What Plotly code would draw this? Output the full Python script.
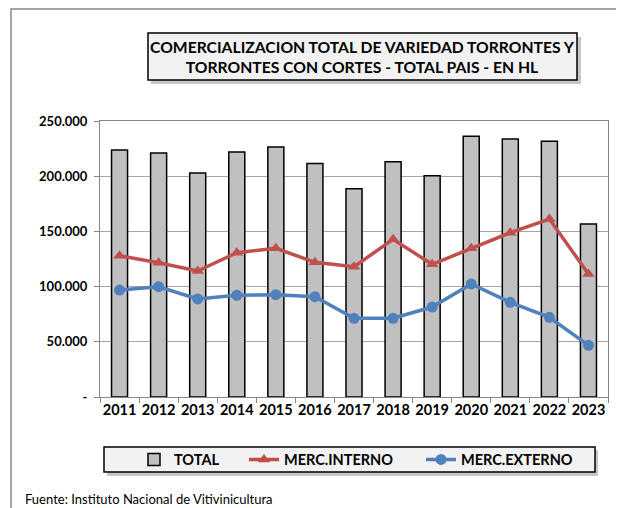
import plotly.graph_objects as go

years = ["2011", "2012", "2013", "2014", "2015", "2016", "2017", "2018", "2019", "2020", "2021", "2022", "2023"]
total = [223700, 221000, 202900, 221900, 226400, 211600, 188700, 213100, 200400, 236100, 233700, 231600, 156700]
merc_interno = [128000, 121600, 114100, 130700, 134700, 122000, 118000, 142800, 120200, 134700, 148800, 161200, 111400]
merc_externo = [96900, 99900, 88800, 92100, 92700, 90900, 71300, 71300, 81500, 102400, 85800, 72200, 46800]

y_tickvals = [0, 50000, 100000, 150000, 200000, 250000]
y_ticktext = ["-", "50.000", "100.000", "150.000", "200.000", "250.000"]

title_text = "COMERCIALIZACION TOTAL DE VARIEDAD TORRONTES Y<br>TORRONTES CON CORTES - TOTAL PAIS - EN HL"
source_text = "Fuente: Instituto Nacional de Vitivinicultura"

FONT = "Lato"
OFF = 8  # page body margin
W, H = 624 - OFF, 508 - OFF
L, R, T, B = 100 - OFF, 608 - OFF, 121 - OFF, 397 - OFF

def px(x):
    # x given in screen pixels
    return (x - OFF - L) / (R - L)

def py(y):
    return (B - (y - OFF)) / (B - T)

fig = go.Figure()
fig.add_trace(go.Bar(
    x=years, y=total, name="<b>TOTAL</b>", legend="legend",
    marker=dict(color="#c0c0c0", line=dict(color="#000000", width=1.5)),
    width=0.41,
))
fig.add_trace(go.Scatter(
    x=years, y=merc_interno, name="<b>MERC.INTERNO</b>", mode="lines+markers", legend="legend2",
    line=dict(color="#c0504d", width=3.5),
    marker=dict(symbol="triangle-up", size=11, color="#c0504d"),
))
fig.add_trace(go.Scatter(
    x=years, y=merc_externo, name="<b>MERC.EXTERNO</b>", mode="lines+markers", legend="legend3",
    line=dict(color="#4f81bd", width=3.5),
    marker=dict(symbol="circle", size=11, color="#4f81bd"),
))

shapes = [
    # outer chart border
    dict(type="rect", xref="paper", yref="paper", x0=px(11), x1=px(640), y0=py(9), y1=py(530),
         line=dict(color="#868686", width=1.5), fillcolor="rgba(0,0,0,0)", layer="below"),
    # title shadow + box
    dict(type="rect", xref="paper", yref="paper", x0=px(151), x1=px(581), y0=py(37), y1=py(84),
         line=dict(width=0), fillcolor="rgba(0,0,0,0.22)", layer="below"),
    dict(type="rect", xref="paper", yref="paper", x0=px(148), x1=px(577), y0=py(33), y1=py(80),
         line=dict(color="#000000", width=1.5), fillcolor="#f2f2f2", layer="above"),
    # legend shadow + box
    dict(type="rect", xref="paper", yref="paper", x0=px(107), x1=px(598), y0=py(450), y1=py(476),
         line=dict(width=0), fillcolor="rgba(0,0,0,0.22)", layer="below"),
    dict(type="rect", xref="paper", yref="paper", x0=px(104), x1=px(595), y0=py(447), y1=py(472),
         line=dict(color="#000000", width=1.5), fillcolor="#f2f2f2", layer="below"),
]

annotations = [
    dict(text="<b>" + title_text.replace("<br>", "</b><br><b>") + "</b>", xref="paper", yref="paper",
         x=px(362.5), y=py(57), xanchor="center", yanchor="middle", showarrow=False,
         font=dict(family=FONT, size=15.7, color="#000000"), align="center"),
    dict(text=source_text, xref="paper", yref="paper", x=px(23), y=py(489),
         xanchor="left", yanchor="top", showarrow=False,
         font=dict(family=FONT, size=13, color="#000000")),
]

def leg(xscreen):
    return dict(orientation="h", x=px(xscreen), y=py(459.5), xanchor="left", yanchor="middle",
                bgcolor="rgba(0,0,0,0)", borderwidth=0,
                font=dict(family=FONT, size=14.5, color="#000000"), itemwidth=30)

fig.update_layout(
    width=W, height=H,
    margin=dict(l=L, r=W - R, t=T, b=H - B, autoexpand=False),
    paper_bgcolor="#ffffff", plot_bgcolor="#ffffff",
    font=dict(family=FONT, color="#000000"),
    showlegend=True,
    legend=leg(134), legend2=leg(244), legend3=leg(421),
    shapes=shapes, annotations=annotations,
    bargap=0.59,
)
fig.update_xaxes(
    type="category", range=[-0.5, len(years) - 0.5], tickson="boundaries", ticks="outside",
    ticklen=5, tickcolor="#868686",
    showline=True, linecolor="#868686", linewidth=1, mirror=True, automargin=False,
    showgrid=False, tickfont=dict(family=FONT, size=14.5, color="#000000"), tickangle=0,
    tickprefix="<b>", ticksuffix="</b>",
)
fig.update_yaxes(
    range=[0, 250000], tickvals=y_tickvals, ticktext=["<b>%s</b>" % t for t in y_ticktext],
    ticks="outside", ticklen=5, tickcolor="#868686", automargin=False,
    showline=True, linecolor="#868686", linewidth=1, mirror=True,
    showgrid=True, gridcolor="#a6a6a6", gridwidth=1, zeroline=False,
    tickfont=dict(family=FONT, size=13, color="#000000"), ticklabelstandoff=4,
)

fig.write_html("out.html")
